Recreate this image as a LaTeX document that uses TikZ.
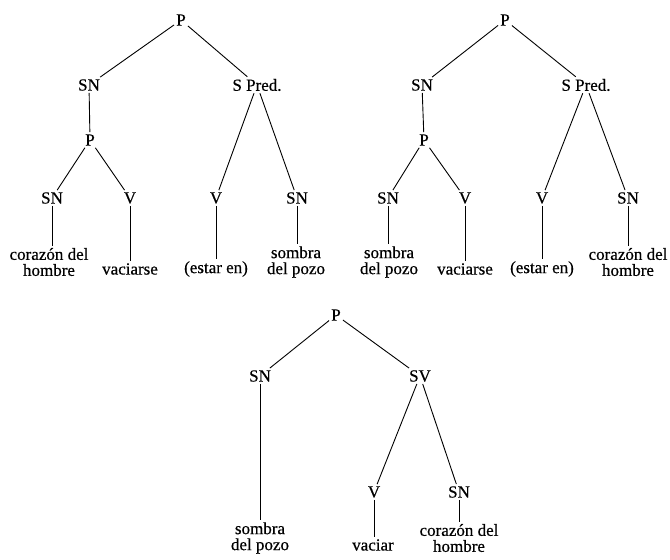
\documentclass[tikz,border=0pt]{standalone}
\usepackage{fontspec}
\setmainfont[FakeBold=0.5]{Liberation Serif}
\begin{document}
\begin{tikzpicture}[x=1pt,y=-1pt,
  lab/.style={inner sep=2pt, font=\fontsize{17}{16}\selectfont, align=center},
  edge/.style={line width=0.9pt}]
\useasboundingbox (0,0) rectangle (670,560);
% Tree 1
\node[lab] (t1p) at (181,20) {P};
\node[lab] (t1sn) at (89,85) {SN};
\node[lab] (t1sp) at (257,85) {S Pred.};
\node[lab] (t1p2) at (90,140) {P};
\node[lab] (t1sna) at (52,198) {SN};
\node[lab] (t1va) at (130,198) {V};
\node[lab] (t1vb) at (216,198) {V};
\node[lab] (t1snb) at (297,198) {SN};
\node[lab] (t1la) at (49,262) {corazón del\\hombre};
\node[lab] (t1lb) at (130,269) {vaciarse};
\node[lab] (t1lc) at (216,269) {(estar en)};
\node[lab] (t1ld) at (296,262) {sombra\\del pozo};
\draw[edge] (t1p) -- (t1sn);
\draw[edge] (t1p) -- (t1sp);
\draw[edge] (t1sn) -- (t1p2);
\draw[edge] (t1p2) -- (t1sna);
\draw[edge] (t1p2) -- (t1va);
\draw[edge] (t1sp) -- (t1vb);
\draw[edge] (t1sp) -- (t1snb);
\draw[edge] (t1sna.south) -- (t1sna.south |- t1la.north);
\draw[edge] (t1va.south) -- (t1va.south |- t1lb.north);
\draw[edge] (t1vb.south) -- (t1vb.south |- t1lc.north);
\draw[edge] (t1snb.south) -- (t1snb.south |- t1ld.north);
% Tree 2
\node[lab] (t2p) at (505,20) {P};
\node[lab] (t2sn) at (422,85) {SN};
\node[lab] (t2sp) at (586,85) {S Pred.};
\node[lab] (t2p2) at (424,140) {P};
\node[lab] (t2sna) at (388,198) {SN};
\node[lab] (t2va) at (465,198) {V};
\node[lab] (t2vb) at (542,198) {V};
\node[lab] (t2snb) at (628,198) {SN};
\node[lab] (t2la) at (389,262) {sombra\\del pozo};
\node[lab] (t2lb) at (465,269) {vaciarse};
\node[lab] (t2lc) at (542,269) {(estar en)};
\node[lab] (t2ld) at (628,262) {corazón del\\hombre};
\draw[edge] (t2p) -- (t2sn);
\draw[edge] (t2p) -- (t2sp);
\draw[edge] (t2sn) -- (t2p2);
\draw[edge] (t2p2) -- (t2sna);
\draw[edge] (t2p2) -- (t2va);
\draw[edge] (t2sp) -- (t2vb);
\draw[edge] (t2sp) -- (t2snb);
\draw[edge] (t2sna.south) -- (t2sna.south |- t2la.north);
\draw[edge] (t2va.south) -- (t2va.south |- t2lb.north);
\draw[edge] (t2vb.south) -- (t2vb.south |- t2lc.north);
\draw[edge] (t2snb.south) -- (t2snb.south |- t2ld.north);
% Tree 3
\node[lab] (t3p) at (336,315) {P};
\node[lab] (t3sn) at (260,376) {SN};
\node[lab] (t3sv) at (420,376) {SV};
\node[lab] (t3v) at (374,492) {V};
\node[lab] (t3snb) at (459,492) {SN};
\node[lab] (t3la) at (260,538) {sombra\\del pozo};
\node[lab] (t3lb) at (373,545) {vaciar};
\node[lab] (t3lc) at (459,538) {corazón del\\hombre};
\draw[edge] (t3p) -- (t3sn);
\draw[edge] (t3p) -- (t3sv);
\draw[edge] (t3sv) -- (t3v);
\draw[edge] (t3sv) -- (t3snb);
\draw[edge] (t3sn.south) -- (t3sn.south |- t3la.north);
\draw[edge] (t3v.south) -- (t3v.south |- t3lb.north);
\draw[edge] (t3snb.south) -- (t3snb.south |- t3lc.north);
\end{tikzpicture}
\end{document}
